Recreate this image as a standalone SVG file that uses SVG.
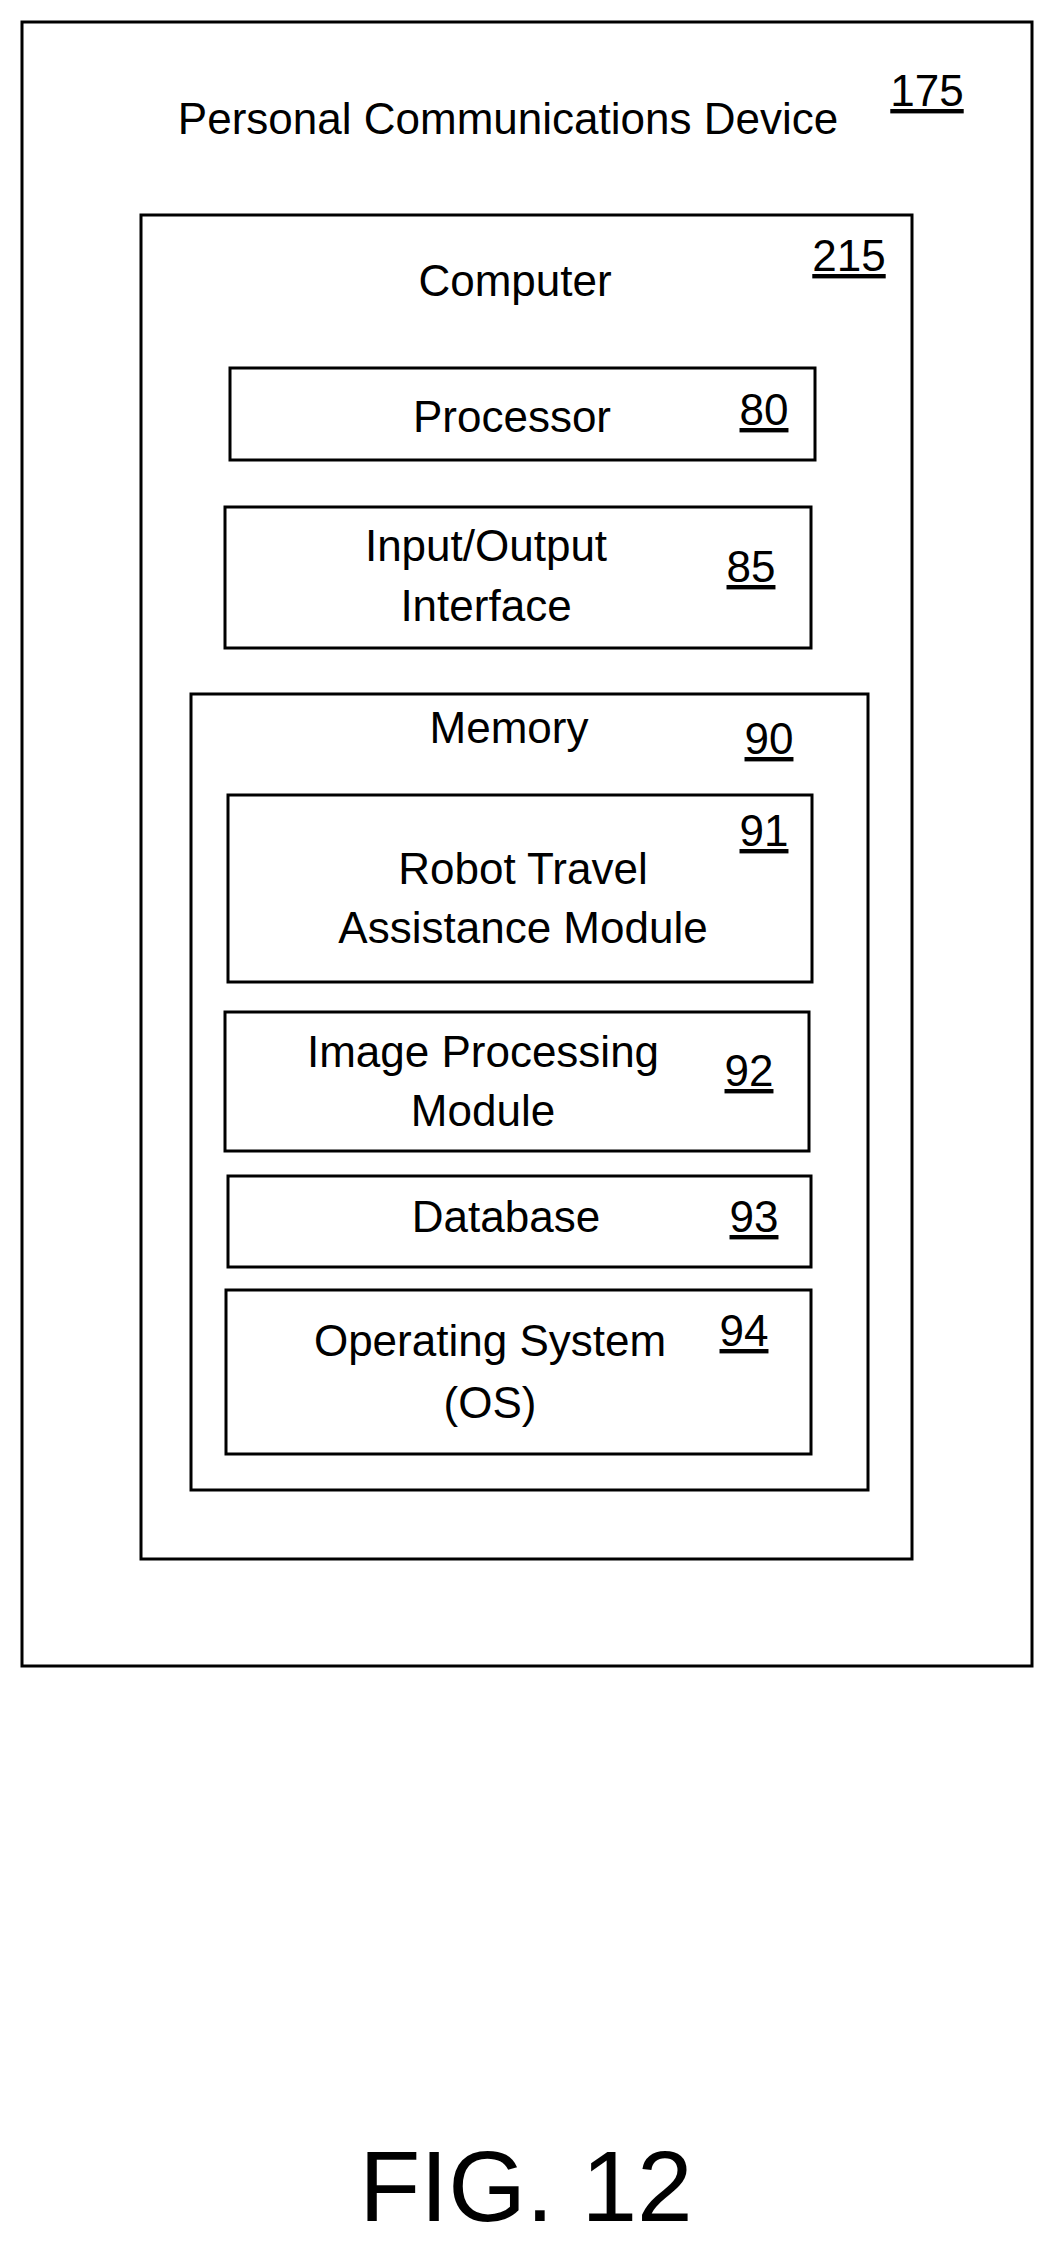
<svg xmlns="http://www.w3.org/2000/svg" width="1058" height="2249" viewBox="0 0 1058 2249">
<style>
rect{fill:#fff;stroke:#000;stroke-width:3}
text{font-family:"Liberation Sans",Arial,sans-serif;font-size:44px;fill:#000;text-anchor:middle}
.n{text-decoration:underline}
.fig{font-size:100px}
</style>
<rect x="0" y="0" width="1058" height="2249" style="stroke:none"/>
<g id="device"><rect x="22" y="22" width="1010" height="1644"/>
<text x="508" y="134">Personal Communications Device</text><text class="n" x="927" y="106">175</text></g>
<g id="computer"><rect x="141" y="215" width="771" height="1344"/>
<text x="515" y="296">Computer</text><text class="n" x="849" y="271">215</text></g>
<g id="processor"><rect x="230" y="368" width="585" height="92"/>
<text x="512" y="432">Processor</text><text class="n" x="764" y="425">80</text></g>
<g id="io"><rect x="225" y="507" width="586" height="141"/>
<text x="486" y="561">Input/Output</text><text x="486" y="621">Interface</text><text class="n" x="751" y="582">85</text></g>
<g id="memory"><rect x="191" y="694" width="677" height="796"/>
<text x="509" y="743">Memory</text><text class="n" x="769" y="754">90</text></g>
<g id="robot"><rect x="228" y="795" width="584" height="187"/>
<text x="523" y="884">Robot Travel</text><text x="523" y="943">Assistance Module</text><text class="n" x="764" y="846">91</text></g>
<g id="image"><rect x="225" y="1012" width="584" height="139"/>
<text x="483" y="1067">Image Processing</text><text x="483" y="1126">Module</text><text class="n" x="749" y="1086">92</text></g>
<g id="database"><rect x="228" y="1176" width="583" height="91"/>
<text x="506" y="1232">Database</text><text class="n" x="754" y="1232">93</text></g>
<g id="os"><rect x="226" y="1290" width="585" height="164"/>
<text x="490" y="1356">Operating System</text><text x="490" y="1418">(OS)</text><text class="n" x="744" y="1346">94</text></g>
<g id="connectors"></g>
<text class="fig" x="526" y="2221">FIG. 12</text>
</svg>
